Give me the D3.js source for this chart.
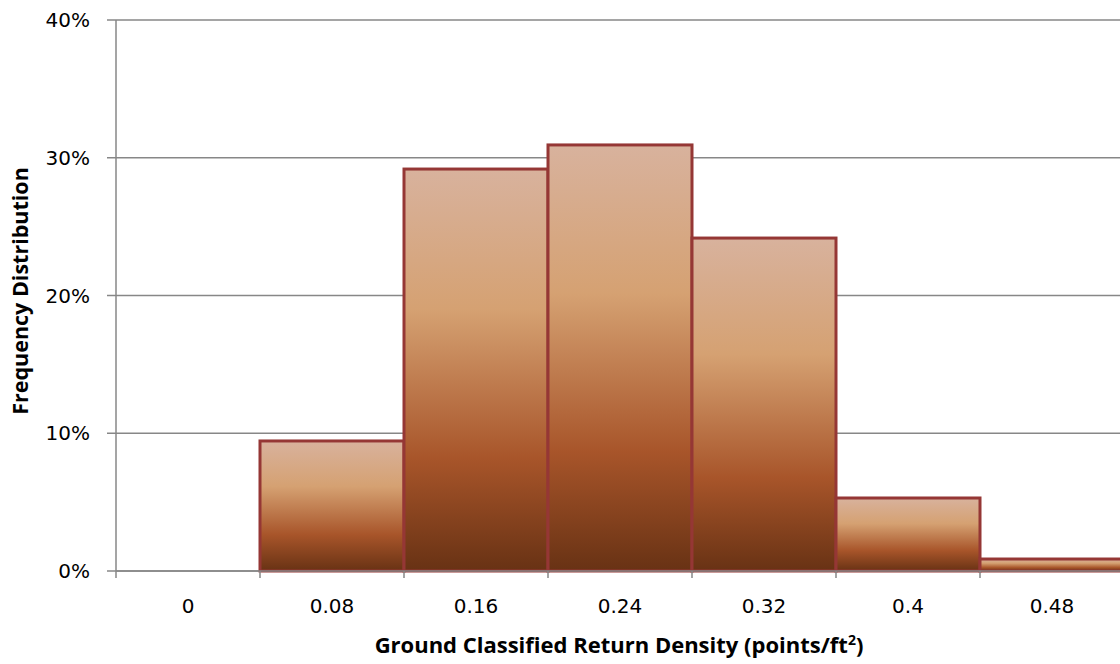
<!DOCTYPE html>
<html>
<head>
<meta charset="utf-8">
<script src="https://cdn.jsdelivr.net/npm/d3@7"></script>
<style>
  html, body { margin: 0; padding: 0; background: #fff; }
  svg { display: block; }
</style>
</head>
<body>
<svg id="chart" width="1120" height="664"></svg>
<script>
// Histogram bins (points/ft²) and share of cells in each bin
const categories = ["0", "0.08", "0.16", "0.24", "0.32", "0.4", "0.48"];
const frequency = [0, 0.0944, 0.2918, 0.3093, 0.2417, 0.0530, 0.0087];
const yTicks = [0, 0.1, 0.2, 0.3, 0.4];

const svg = d3.select("#chart");
const plotLeft = 116, plotBottom = 571, plotTop = 20, band = 144;

const x = d3.scaleBand()
  .domain(categories)
  .range([plotLeft, plotLeft + band * categories.length])
  .paddingInner(0).paddingOuter(0);

const y = d3.scaleLinear().domain([0, 0.4]).range([plotBottom, plotTop]);

const tickFont = "'DejaVu Sans', Verdana, sans-serif";
const titleFont = "'Open Sans', 'Noto Sans', sans-serif";

// vertical bar fill
const defs = svg.append("defs");
const grad = defs.append("linearGradient")
  .attr("id", "barFill")
  .attr("x1", 0).attr("y1", 0).attr("x2", 0).attr("y2", 1);
[[0, "#d8b29d"], [0.35, "#d5a172"], [0.72, "#a8552a"], [1, "#683214"]]
  .forEach(([o, c]) => grad.append("stop").attr("offset", o).attr("stop-color", c));

// horizontal gridlines with left ticks
svg.append("g")
  .selectAll("line")
  .data(yTicks)
  .join("line")
  .attr("x1", plotLeft - 9).attr("x2", 1120)
  .attr("y1", d => y(d)).attr("y2", d => y(d))
  .attr("stroke", "#878787").attr("stroke-width", 1.5);

// y tick labels
svg.append("g")
  .selectAll("text")
  .data(yTicks)
  .join("text")
  .attr("x", plotLeft - 26).attr("y", d => y(d))
  .attr("dy", "0.36em")
  .attr("text-anchor", "end")
  .attr("font-family", tickFont).attr("font-size", 20)
  .attr("fill", "#000")
  .text(d3.format(".0%"));

// bars
svg.append("g")
  .selectAll("rect")
  .data(categories.map((c, i) => ({ c, v: frequency[i] })).filter(d => d.v > 0))
  .join("rect")
  .attr("x", d => x(d.c))
  .attr("y", d => y(d.v))
  .attr("width", x.bandwidth())
  .attr("height", d => y(0) - y(d.v))
  .attr("fill", "url(#barFill)")
  .attr("stroke", "#953735").attr("stroke-width", 3);

// y axis line
svg.append("line")
  .attr("x1", plotLeft).attr("x2", plotLeft).attr("y1", plotTop).attr("y2", plotBottom)
  .attr("stroke", "#878787").attr("stroke-width", 1.5);

// x axis line and category boundary ticks
svg.append("line")
  .attr("x1", plotLeft).attr("x2", 1120).attr("y1", plotBottom).attr("y2", plotBottom)
  .attr("stroke", "#878787").attr("stroke-width", 1.5);
const bounds = categories.map(c => x(c)).concat([x(categories[categories.length - 1]) + band]);
svg.append("g")
  .selectAll("line")
  .data(bounds)
  .join("line")
  .attr("x1", d => d).attr("x2", d => d)
  .attr("y1", plotBottom).attr("y2", plotBottom + 7)
  .attr("stroke", "#878787").attr("stroke-width", 1.5);

// x tick labels
svg.append("g")
  .selectAll("text")
  .data(categories)
  .join("text")
  .attr("x", d => x(d) + band / 2)
  .attr("y", 606)
  .attr("dy", "0.36em")
  .attr("text-anchor", "middle")
  .attr("font-family", tickFont).attr("font-size", 20)
  .attr("fill", "#000")
  .text(d => d);

// axis titles
const xt = svg.append("text")
  .attr("x", 619).attr("y", 645).attr("dy", "0.36em")
  .attr("text-anchor", "middle")
  .attr("font-family", titleFont).attr("font-weight", "bold").attr("font-size", 22)
  .attr("fill", "#000");
xt.append("tspan").text("Ground Classified Return Density (points/ft");
xt.append("tspan").attr("font-size", 14).attr("dy", "-0.55em").text("2");
xt.append("tspan").attr("dy", "0.36em").text(")");

svg.append("text")
  .attr("transform", "translate(20,291) rotate(-90)")
  .attr("dy", "0.36em")
  .attr("text-anchor", "middle")
  .attr("font-family", titleFont).attr("font-weight", "bold").attr("font-size", 21.5)
  .attr("fill", "#000")
  .text("Frequency Distribution");
</script>
</body>
</html>
